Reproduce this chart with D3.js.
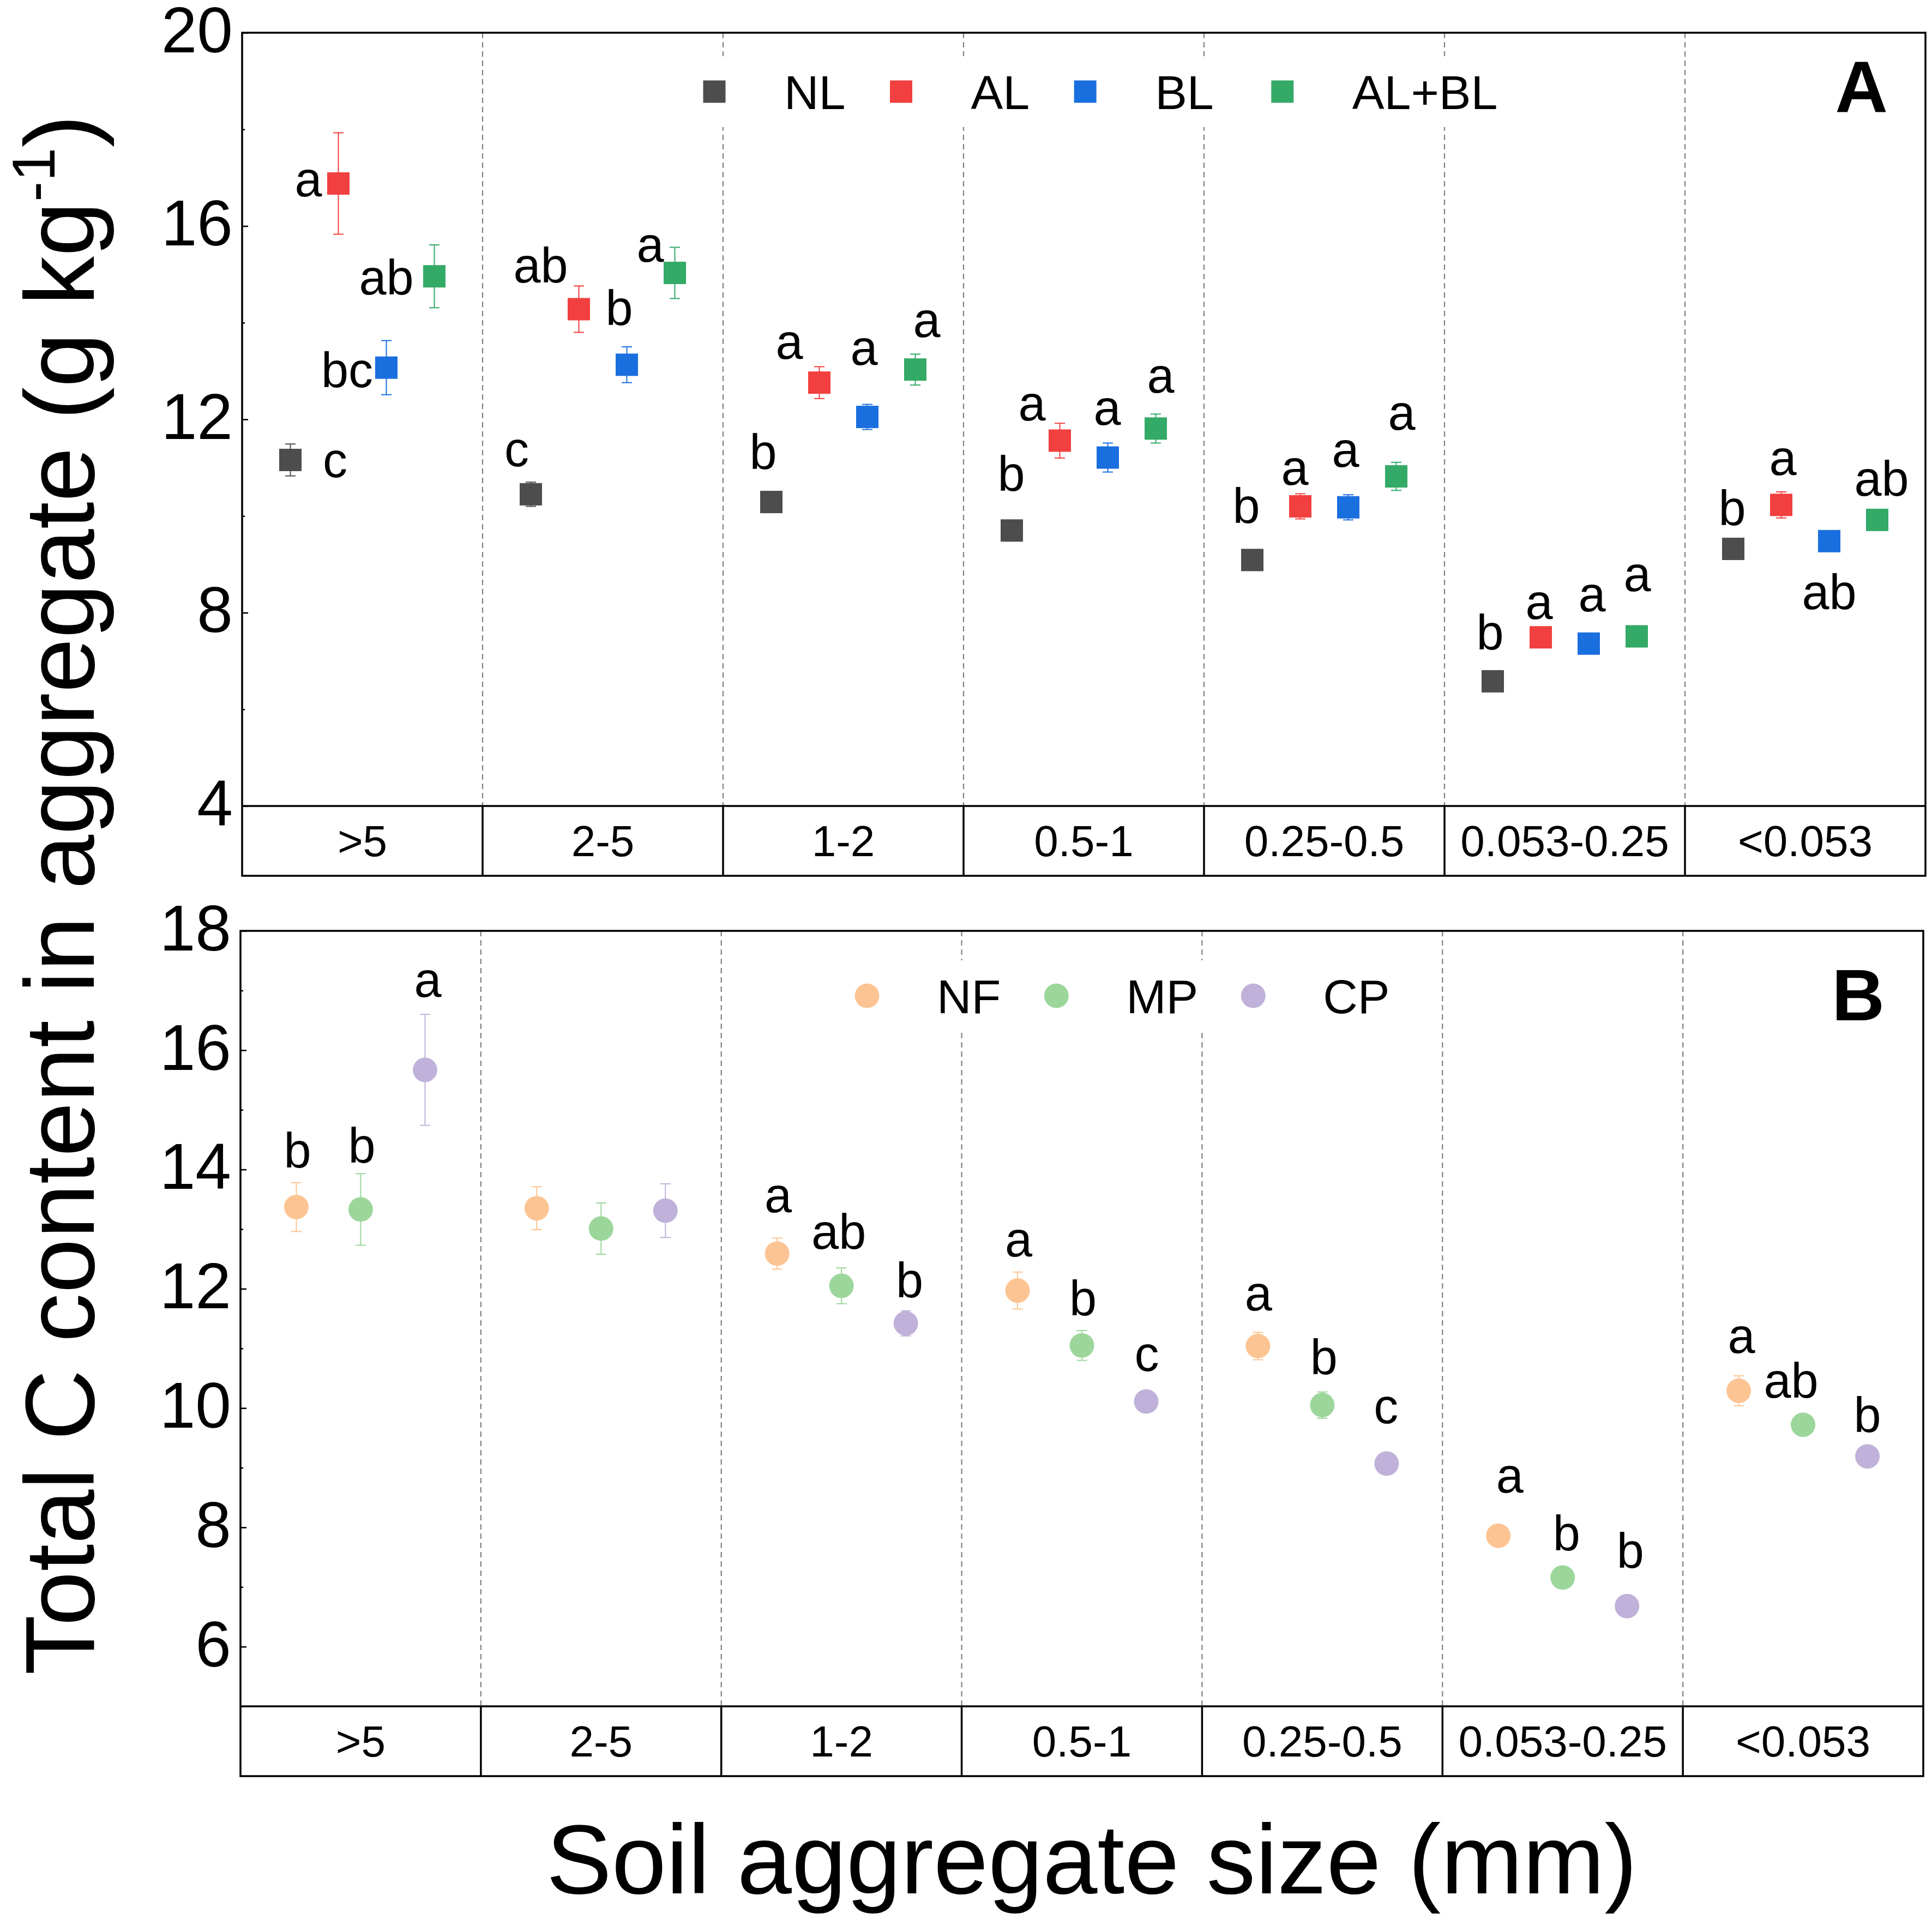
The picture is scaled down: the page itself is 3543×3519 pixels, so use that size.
<!DOCTYPE html>
<html><head><meta charset="utf-8">
<script src="https://cdn.jsdelivr.net/npm/d3@7"></script>
<style>body{margin:0;background:#fff}</style>
</head><body><svg id="chart"></svg>
<script>
// ---------------- DATA ----------------
const categories = [">5", "2-5", "1-2", "0.5-1", "0.25-0.5", "0.053-0.25", "<0.053"];

// Panel A (squares)
const seriesA = ["NL", "AL", "BL", "AL+BL"];
const meanNL   = [11.16, 10.45, 10.29, 9.70, 9.09, 6.58, 9.32];
const meanAL   = [16.88, 14.28, 12.76, 11.56, 10.20, 7.49, 10.23];
const meanBL   = [13.07, 13.13, 12.05, 11.21, 10.18, 7.36, 9.48];
const meanALBL = [14.96, 15.03, 13.03, 11.81, 10.82, 7.51, 9.92];
const errNL    = [0.33, 0.25, 0.10, 0.10, 0.10, 0.10, 0.10];
const errAL    = [1.05, 0.48, 0.33, 0.36, 0.26, 0.10, 0.27];
const errBL    = [0.56, 0.37, 0.26, 0.30, 0.26, 0.10, 0.10];
const errALBL  = [0.65, 0.53, 0.32, 0.30, 0.29, 0.10, 0.10];
const lblNL    = ["c", "c", "b", "b", "b", "b", "b"];
const lblAL    = ["a", "ab", "a", "a", "a", "a", "a"];
const lblBL    = ["bc", "b", "a", "a", "a", "a", "ab"];
const lblALBL  = ["ab", "a", "a", "a", "a", "a", "ab"];
const ticksA      = [4, 8, 12, 16, 20];
const minorTicksA = [6, 10, 14, 18];

// Panel B (circles)
const seriesB = ["NF", "MP", "CP"];
const meanNF = [13.37, 13.35, 12.59, 11.97, 11.04, 7.86, 10.29];
const meanMP = [13.33, 13.01, 12.05, 11.05, 10.05, 7.16, 9.72];
const meanCP = [15.67, 13.31, 11.42, 10.11, 9.07, 6.68, 9.19];
const errNF  = [0.41, 0.36, 0.26, 0.31, 0.23, 0.10, 0.25];
const errMP  = [0.60, 0.43, 0.30, 0.25, 0.22, 0.10, 0.10];
const errCP  = [0.93, 0.45, 0.21, 0.10, 0.10, 0.10, 0.10];
const lblNF  = ["b", "", "a", "a", "a", "a", "a"];
const lblMP  = ["b", "", "ab", "b", "b", "b", "ab"];
const lblCP  = ["a", "", "b", "c", "c", "b", "b"];
const ticksB      = [6, 8, 10, 12, 14, 16, 18];
const minorTicksB = [5, 7, 9, 11, 13, 15, 17];

// ---------------- LAYOUT / STYLE ----------------
const W = 3543, H = 3519;
const FONT = '"Liberation Sans", Arial, Helvetica, sans-serif';
const colorsA = {"NL": "#4d4d4d", "AL": "#f23f3f", "BL": "#1a6fdf", "AL+BL": "#33aa66"};
const colorsB = {"NF": "#fdc493", "MP": "#9cd69b", "CP": "#bfb1d9"};
// letter-label nudges (px) relative to each marker
const labelNudgeA = {
  "NL":    [[82,8],[-26,-75],[-15,-93],[-1,-105],[-11,-100],[-5,-91],[-2,-76]],
  "AL":    [[-55,0],[-70,-81],[-55,-67],[-51,-60],[-10,-63],[-3,-57],[3,-78]],
  "BL":    [[-72,3],[-14,-105],[-6,-119],[-1,-83],[-5,-98],[6,-83],[0,92]],
  "AL+BL": [[-88,1],[-45,-44],[21,-83],[9,-89],[10,-109],[1,-106],[8,-77]]
};
const labelNudgeB = {
  "NF": [[2,-105],[0,0],[2,-99],[2,-86],[1,-89],[21,-103],[5,-93]],
  "MP": [[2,-118],[0,0],[-5,-100],[2,-88],[3,-89],[7,-82],[-22,-82]],
  "CP": [[5,-157],[0,0],[7,-80],[1,-79],[-1,-97],[6,-103],[0,-77]]
};
const legendGapsA = [102, 102, 126];
const legendGapsB = [102, 101];

const svg = d3.select('#chart').attr('width', W).attr('height', H)
  .attr('font-family', FONT);
svg.append('rect').attr('width', W).attr('height', H).attr('fill', '#fff');

function drawPanel(cfg) {
  const g = svg.append('g');
  const x = d3.scaleBand().domain(categories).range([cfg.x0, cfg.x1]).padding(0);
  const inner = d3.scalePoint().domain(cfg.series).range([-cfg.spread, cfg.spread]);
  const y = d3.scaleLinear().domain(cfg.domain).range([cfg.yBottom, cfg.yTop]);

  // dashed separators
  g.selectAll('line.sep').data(categories.slice(1)).join('line')
    .attr('x1', d => x(d)).attr('x2', d => x(d))
    .attr('y1', cfg.yTop).attr('y2', cfg.yBottom)
    .attr('stroke', '#808080').attr('stroke-width', 2.2)
    .attr('stroke-dasharray', '10,7');

  // axis ticks (inward) and labels
  const major = d3.axisLeft(y).tickValues(cfg.ticks).tickSizeInner(-11)
    .tickSizeOuter(0).tickPadding(17).tickFormat(d3.format('d'));
  const minor = d3.axisLeft(y).tickValues(cfg.minor).tickSizeInner(-5)
    .tickSizeOuter(0).tickFormat('');
  [major, minor].forEach(ax => {
    g.append('g').attr('transform', `translate(${cfg.x0},0)`).call(ax)
      .call(a => {
        a.select('.domain').remove();
        a.selectAll('line').attr('stroke', '#000').attr('stroke-width', 2.6);
        a.selectAll('text').attr('font-size', 118).attr('font-family', FONT)
          .attr('fill', '#000').attr('dy', '0.3em');
      });
  });

  // legend
  const lg = g.append('g');
  const bg = lg.append('rect').attr('fill', '#fff');
  let lx = cfg.legendX;
  const ly = cfg.legendY;
  const legendStart = lx;
  let lastEnd = lx;
  cfg.series.forEach((s, i) => {
    if (cfg.shape === 'square') {
      lg.append('rect').attr('x', lx - 20.5).attr('y', ly - 20.5)
        .attr('width', 41).attr('height', 41).attr('fill', cfg.colors[s]);
    } else {
      lg.append('circle').attr('cx', lx).attr('cy', ly).attr('r', 22.5)
        .attr('fill', cfg.colors[s]);
    }
    const t = lg.append('text').attr('x', lx + 128).attr('y', ly + 31.5)
      .attr('font-size', 88).attr('fill', '#000').text(s);
    const w = t.node().getComputedTextLength();
    lastEnd = lx + 128 + w;
    lx = lastEnd + (cfg.legendGaps[i] || 102);
  });
  bg.attr('x', legendStart - 70).attr('y', ly - 65)
    .attr('width', lastEnd - legendStart + 120).attr('height', 130);

  // panel letter
  g.append('text').attr('x', cfg.letterX).attr('y', cfg.letterY)
    .attr('text-anchor', 'end').attr('font-size', 134).attr('font-weight', 'bold')
    .attr('fill', '#000').text(cfg.letter);

  // flatten data
  const pts = [];
  cfg.series.forEach((s, si) => {
    categories.forEach((c, ci) => {
      pts.push({s, c, ci, m: cfg.means[si][ci], e: cfg.errs[si][ci],
        lbl: cfg.labels[si][ci], nudge: cfg.nudge[s][ci]});
    });
  });
  const px = d => x(d.c) + x.bandwidth() / 2 + inner(d.s);

  // error bars
  const eb = g.selectAll('g.eb').data(pts).join('g')
    .attr('stroke', d => cfg.colors[d.s]).attr('stroke-width', 2);
  eb.append('line').attr('x1', px).attr('x2', px)
    .attr('y1', d => y(d.m + d.e)).attr('y2', d => y(d.m - d.e));
  eb.append('line').attr('x1', d => px(d) - 9.5).attr('x2', d => px(d) + 9.5)
    .attr('y1', d => y(d.m + d.e)).attr('y2', d => y(d.m + d.e));
  eb.append('line').attr('x1', d => px(d) - 9.5).attr('x2', d => px(d) + 9.5)
    .attr('y1', d => y(d.m - d.e)).attr('y2', d => y(d.m - d.e));

  // markers
  if (cfg.shape === 'square') {
    g.selectAll('rect.mk').data(pts).join('rect')
      .attr('x', d => px(d) - 20.5).attr('y', d => y(d.m) - 20.5)
      .attr('width', 41).attr('height', 41).attr('fill', d => cfg.colors[d.s]);
  } else {
    g.selectAll('circle.mk').data(pts).join('circle')
      .attr('cx', px).attr('cy', d => y(d.m)).attr('r', 22.5)
      .attr('fill', d => cfg.colors[d.s]);
  }

  // significance letters
  g.selectAll('text.sig').data(pts.filter(d => d.lbl)).join('text')
    .attr('x', d => px(d) + d.nudge[0])
    .attr('y', d => y(d.m) + d.nudge[1] + (/b/.test(d.lbl) ? 0.36 : 0.26) * 90)
    .attr('text-anchor', 'middle').attr('font-size', 90).attr('fill', '#000')
    .text(d => d.lbl);

  // frame and category box
  g.append('rect').attr('x', cfg.x0).attr('y', cfg.yTop)
    .attr('width', cfg.x1 - cfg.x0).attr('height', cfg.boxBottom - cfg.yTop)
    .attr('fill', 'none').attr('stroke', '#000').attr('stroke-width', 3.5);
  g.append('line').attr('x1', cfg.x0).attr('x2', cfg.x1)
    .attr('y1', cfg.yBottom).attr('y2', cfg.yBottom)
    .attr('stroke', '#000').attr('stroke-width', 3.5);
  g.selectAll('line.div').data(categories.slice(1)).join('line')
    .attr('x1', d => x(d)).attr('x2', d => x(d))
    .attr('y1', cfg.yBottom).attr('y2', cfg.boxBottom)
    .attr('stroke', '#000').attr('stroke-width', 3.5);
  g.selectAll('text.cat').data(categories).join('text')
    .attr('x', d => x(d) + x.bandwidth() / 2)
    .attr('y', (cfg.yBottom + cfg.boxBottom) / 2 + 28)
    .attr('text-anchor', 'middle').attr('font-size', 80).attr('fill', '#000')
    .text(d => d);
}

drawPanel({
  x0: 444, x1: 3531, yTop: 60, yBottom: 1478, boxBottom: 1606,
  domain: [4, 20], ticks: ticksA, minor: minorTicksA,
  series: seriesA, colors: colorsA, shape: 'square', spread: 132,
  means: [meanNL, meanAL, meanBL, meanALBL],
  errs: [errNL, errAL, errBL, errALBL],
  labels: [lblNL, lblAL, lblBL, lblALBL], nudge: labelNudgeA,
  legendX: 1310, legendY: 168, legendGaps: legendGapsA,
  letter: 'A', letterX: 3462, letterY: 206
});
drawPanel({
  x0: 441, x1: 3527, yTop: 1707, yBottom: 3129, boxBottom: 3257,
  domain: [5, 18], ticks: ticksB, minor: minorTicksB,
  series: seriesB, colors: colorsB, shape: 'circle', spread: 118,
  means: [meanNF, meanMP, meanCP],
  errs: [errNF, errMP, errCP],
  labels: [lblNF, lblMP, lblCP], nudge: labelNudgeB,
  legendX: 1590, legendY: 1826, legendGaps: legendGapsB,
  letter: 'B', letterX: 3456, letterY: 1871
});

// axis titles
const yt = svg.append('text')
  .attr('transform', 'translate(172,1641) rotate(-90)')
  .attr('text-anchor', 'middle').attr('font-size', 180).attr('fill', '#000');
yt.append('tspan').text('Total C content in aggregate (g kg');
yt.append('tspan').attr('font-size', 112).attr('dy', -72).text('-1');
yt.append('tspan').attr('dy', 72).text(')');

svg.append('text').attr('x', 2002).attr('y', 3472)
  .attr('text-anchor', 'middle').attr('font-size', 180).attr('fill', '#000')
  .text('Soil aggregate size (mm)');
</script>
</body></html>
